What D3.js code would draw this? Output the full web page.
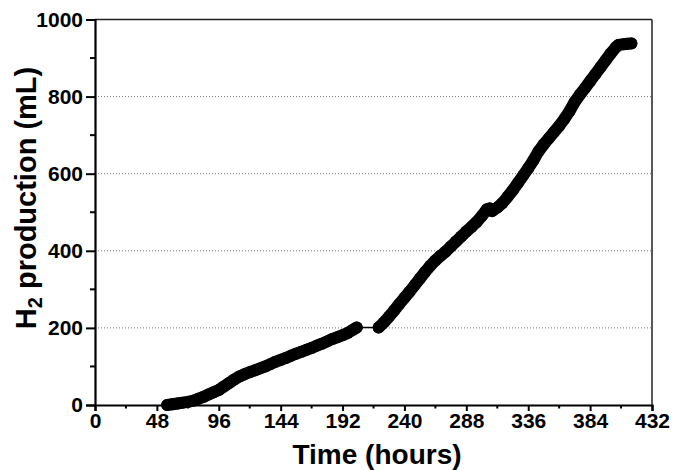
<!DOCTYPE html>
<html><head><meta charset="utf-8">
<script src="https://cdn.jsdelivr.net/npm/d3@7/dist/d3.min.js"></script>
<style>body{margin:0;background:#fff}svg{display:block}text{font-family:"Liberation Sans",Arial,sans-serif;font-weight:bold;fill:#000}</style>
</head><body><svg id="c" width="673" height="470"></svg>
<script>
// Segment 1 (before gap)
const times1 = [56,60,64,68,72,76,80,84,88,92,96,100,104,108,112,116,120,124,128,132,136,140,144,148,152,156,160,164,168,172,176,180,184,188,192,196,200,203];
const values1 = [0,2,4,6,8,11,16,21,27,33,39,48,57,66,74,80,85,90,95,100,106,112,117,122,128,133,138,143,148,154,159,165,171,176,181,187,195,201];
// Segment 2 (after gap)
const times2 = [220,224,228,232,236,240,244,248,252,256,260,264,268,272,276,280,284,288,292,296,300,304,306,308,312,316,320,324,328,332,336,340,344,348,352,356,360,364,368,372,376,380,384,388,392,396,400,404,406,410,413,416];
const values2 = [201,214,229,245,262,278,294,311,328,345,361,375,387,398,411,424,437,450,462,475,490,508,510,503,512,524,540,557,576,595,614,635,658,676,692,708,724,742,762,786,805,822,840,858,876,894,912,928,934,936,937,938];
const xTicks = [0,48,96,144,192,240,288,336,384,432];
const yTicks = [0,200,400,600,800,1000];
const xMinor = [24,72,120,168,216,264,312,360,408];
const yMinor = [100,300,500,700,900];

const svg = d3.select("#c");
const L = 95, R = 652, T = 19.5, B = 405;
const x = d3.scaleLinear().domain([0,432]).range([L,R]);
const y = d3.scaleLinear().domain([0,1000]).range([B,T]);

// grid
svg.append("g").selectAll("line").data(yTicks.filter(d=>d>0&&d<1000)).join("line")
  .attr("x1",L).attr("x2",R).attr("y1",d=>y(d)).attr("y2",d=>y(d))
  .attr("stroke","#777").attr("stroke-width",1).attr("stroke-dasharray","1,2");

// frame top/right
svg.append("line").attr("x1",L).attr("x2",R).attr("y1",T).attr("y2",T).attr("stroke","#222").attr("stroke-width",1.5);
svg.append("line").attr("x1",R).attr("x2",R).attr("y1",T).attr("y2",B).attr("stroke","#222").attr("stroke-width",1.5);

// axes
const xAxis = d3.axisBottom(x).tickValues(xTicks).tickSize(6).tickPadding(2).tickFormat(d3.format("d"));
const gx = svg.append("g").attr("transform",`translate(0,${B})`).call(xAxis);
gx.selectAll("text").style("font-size","21px");
gx.append("g").selectAll("line").data(xMinor).join("line")
  .attr("x1",d=>x(d)).attr("x2",d=>x(d)).attr("y1",0).attr("y2",3.5).attr("stroke","#000").attr("stroke-width",2);
const yAxis = d3.axisLeft(y).tickValues(yTicks).tickSize(9).tickPadding(3).tickFormat(d3.format("d"));
const gy = svg.append("g").attr("transform",`translate(${L},0)`).call(yAxis);
gy.selectAll("text").style("font-size","21px");
gy.append("g").selectAll("line").data(yMinor).join("line")
  .attr("x1",0).attr("x2",-5).attr("y1",d=>y(d)).attr("y2",d=>y(d)).attr("stroke","#000").attr("stroke-width",2);
svg.selectAll(".domain").attr("stroke","#000").attr("stroke-width",2.2);
svg.selectAll(".tick line").attr("stroke","#000").attr("stroke-width",2);
svg.selectAll(".tick text").attr("fill","#000");

// data
const seg1 = times1.map((t,i)=>[t,values1[i]]);
const seg2 = times2.map((t,i)=>[t,values2[i]]);
const all = seg1.concat(seg2);
const line = d3.line().x(d=>x(d[0])).y(d=>y(d[1]));
svg.append("path").attr("d",line(all)).attr("fill","none").attr("stroke","#000").attr("stroke-width",1.5);
[seg1,seg2].forEach(s=>{
  svg.append("path").attr("d",line(s)).attr("fill","none").attr("stroke","#000")
    .attr("stroke-width",12).attr("stroke-linejoin","round").attr("stroke-linecap","round");
});
svg.append("g").selectAll("circle").data(all).join("circle")
  .attr("cx",d=>x(d[0])).attr("cy",d=>y(d[1])).attr("r",6).attr("fill","#000");

// titles
svg.append("text").attr("x",377).attr("y",464).attr("text-anchor","middle").style("font-size","28px").text("Time (hours)");
const yt = svg.append("text").attr("transform",`translate(36,198) rotate(-90)`).attr("text-anchor","middle").style("font-size","29px");
yt.append("tspan").text("H");
yt.append("tspan").attr("dy",6).style("font-size","20px").text("2");
yt.append("tspan").attr("dy",-6).text(" production (mL)");
</script></body></html>
